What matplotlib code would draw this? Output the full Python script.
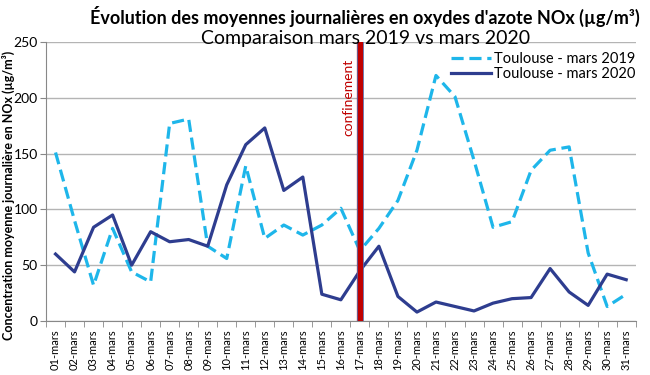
import matplotlib
matplotlib.use("Agg")
import matplotlib.pyplot as plt

days = [f"{d:02d}-mars" for d in range(1, 32)]
mars_2019 = [151, 90, 32, 83, 44, 35, 177, 181, 67, 56, 139, 74, 86, 77, 86, 101,
             63, 83, 108, 153, 220, 201, 144, 84, 89, 135, 153, 156, 61, 13, 24]
mars_2020 = [60, 44, 84, 95, 50, 80, 71, 73, 67, 122, 158, 173, 117, 129, 24, 19,
             45, 67, 22, 8, 17, 13, 9, 16, 20, 21, 47, 26, 14, 42, 37]
label_2019 = "Toulouse - mars 2019"
label_2020 = "Toulouse - mars 2020"
confinement_day = "17-mars"
yticks = [0, 50, 100, 150, 200, 250]

plt.rcParams['font.family'] = ['Lato', 'DejaVu Sans']

fig = plt.figure(figsize=(6.5, 3.75), dpi=100)
ax = fig.add_axes([0.0708, 0.144, 0.9072, 0.744])

x = list(range(len(days)))
ax.plot(x, mars_2019, color="#1EB6EA", lw=2.3, ls=(0, (3.8, 1.8)), label=label_2019, zorder=3)
ax.plot(x, mars_2020, color="#2E3D8F", lw=2.3, label=label_2020, zorder=3)

ci = days.index(confinement_day)
ax.axvline(ci, color="#C00000", lw=4.5, zorder=4)
ax.axvline(ci - 0.17, color="#5A6AA8", lw=0.6, zorder=5)
ax.axvline(ci + 0.17, color="#5A6AA8", lw=0.6, zorder=5)
ax.text(ci - 0.3, 235, "confinement", rotation=90, color="#C00000",
        fontsize=10, ha="right", va="top", zorder=5)

ax.set_xlim(-0.5, len(days) - 0.5)
ax.set_ylim(0, 250)
ax.set_yticks(yticks)
ax.set_xticks(x)
ax.set_xticklabels(days, rotation=90, fontsize=8)
ax.tick_params(axis='y', labelsize=10, length=4, color="#888888", pad=2)
ax.set_xticks([i - 0.5 for i in range(len(days) + 1)], minor=True)
ax.tick_params(axis='x', which='major', length=0, pad=6)
ax.tick_params(axis='x', which='minor', length=4, color="#888888")

ax.grid(axis='y', color="#B4B4B4", lw=1)
ax.set_axisbelow(True)
for s in ["top", "right"]:
    ax.spines[s].set_visible(False)
ax.spines["left"].set_color("#888888")
ax.spines["bottom"].set_color("#888888")

fig.text(0.013, 0.48, "Concentration moyenne journalière en NOx (µg/m³)", rotation=90,
         ha="center", va="center", fontsize=9, fontweight="bold")

fig.text(0.562, 0.955, "Évolution des moyennes journalières en oxydes d'azote NOx (µg/m³)",
         ha="center", va="center", fontsize=13, fontweight="bold")
fig.text(0.562, 0.898, "Comparaison mars 2019 vs mars 2020", ha="center", va="center",
         fontsize=14)

leg = ax.legend(loc="upper right", bbox_to_anchor=(1.01, 0.985), frameon=False,
                fontsize=10.5, handlelength=2.8, handletextpad=0.2, labelspacing=0.1,
                borderaxespad=0)

fig.savefig("out.png", dpi=100)
